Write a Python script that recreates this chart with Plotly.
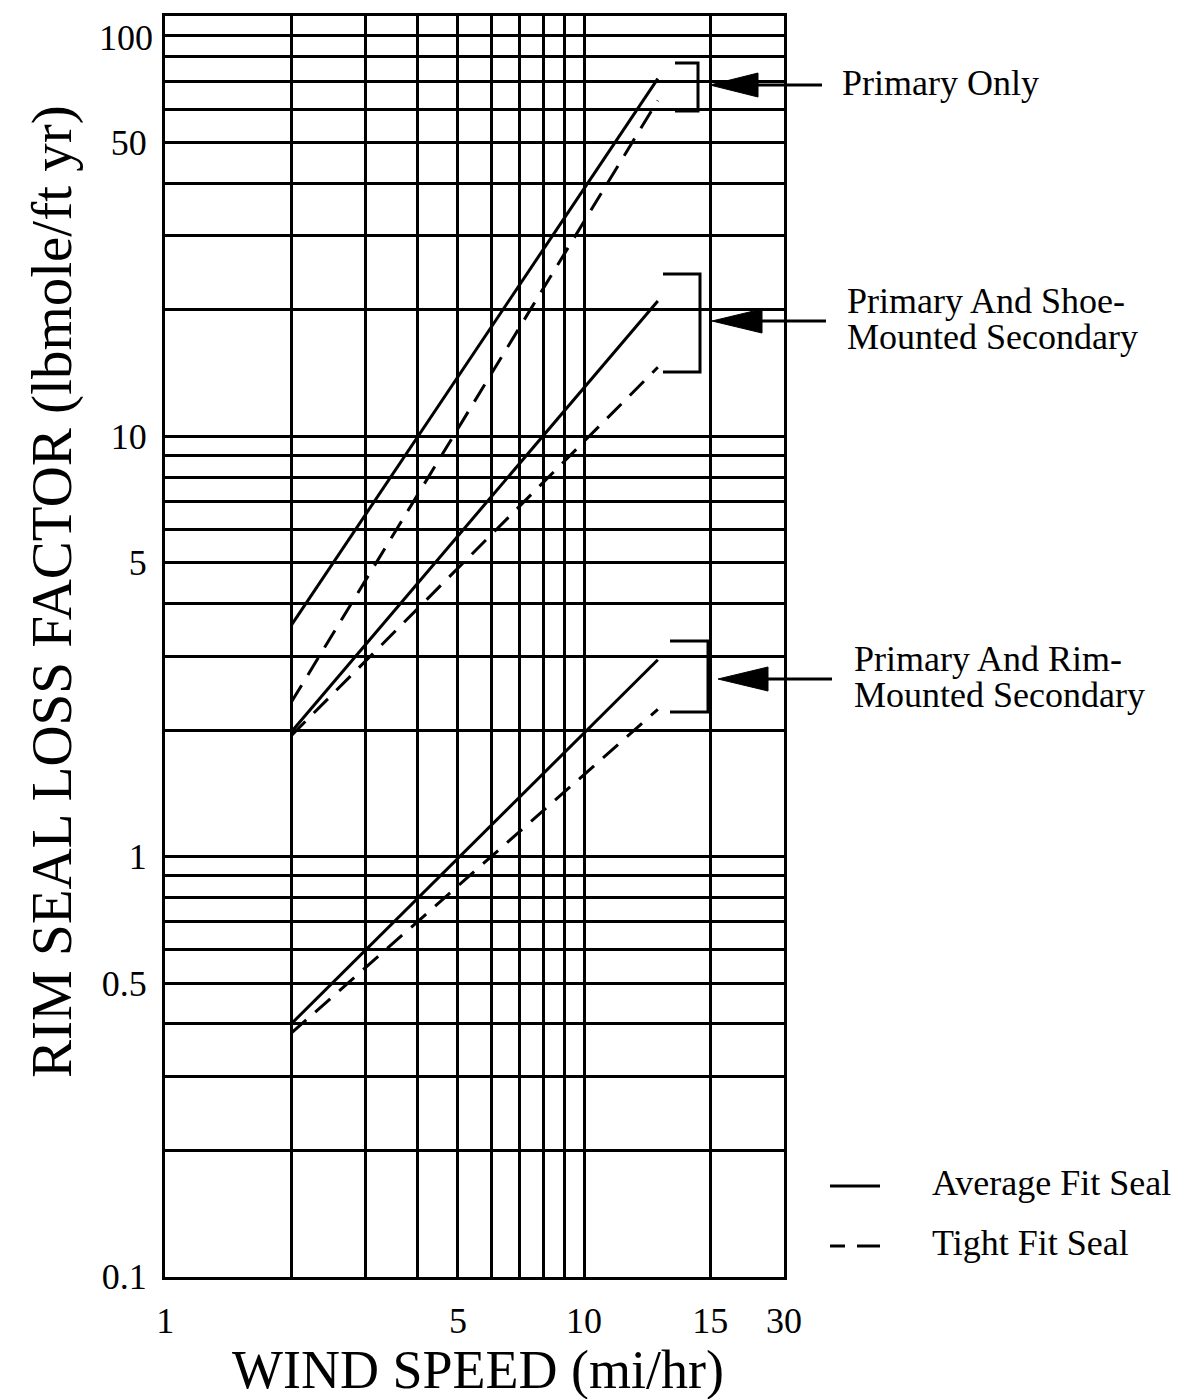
import plotly.graph_objects as go

# Wind speed at the two ends of every rim-seal line (mi/hr)
wind_speed = [2, 15]

# Rim seal loss factor (lbmole/ft yr) at those wind speeds
primary_only_avg = [3.55, 71]
primary_only_tight = [2.33, 63]
shoe_secondary_avg = [1.98, 21]
shoe_secondary_tight = [1.94, 14.6]
rim_secondary_avg = [0.40, 2.94]
rim_secondary_tight = [0.38, 2.24]

# Grid lines and their labels
x_grid = [1, 2, 3, 4, 5, 6, 7, 8, 9, 10, 20, 30]
x_labels = ["1", "", "", "", "5", "", "", "", "", "10", "15", "30"]
y_grid = [0.1, 0.2, 0.3, 0.4, 0.5, 0.6, 0.7, 0.8, 0.9,
          1, 2, 3, 4, 5, 6, 7, 8, 9,
          10, 20, 30, 40, 50, 60, 70, 80, 90, 100]
y_labels = ["0.1", "", "", "", "0.5", "", "", "", "",
            "1", "", "", "", "5", "", "", "", "",
            "10", "", "", "", "50", "", "", "", "", "100"]

FONT = "Liberation Serif"
W, H = 1185, 1399
L, R, T, B = 165, 401, 16, 122
PW, PH = W - L - R, H - T - B


def px(x):
    return (x - L) / PW


def py(y):
    return 1 - (y - T) / PH


fig = go.Figure()

series = [
    (primary_only_avg, "solid"),
    (primary_only_tight, "20px,12px"),
    (shoe_secondary_avg, "solid"),
    (shoe_secondary_tight, "20px,12px"),
    (rim_secondary_avg, "solid"),
    (rim_secondary_tight, "20px,12px"),
]
for values, dash in series:
    fig.add_trace(go.Scatter(
        x=wind_speed, y=values, mode="lines",
        line=dict(color="black", width=3, dash=dash),
        showlegend=False, hoverinfo="skip",
    ))

shapes = []

# Brackets grouping each average/tight pair
brackets = [
    (675, 698, 63, 111),
    (663, 700, 274, 372),
    (670, 708, 641, 712),
]
for x0, x1, y0, y1 in brackets:
    shapes.append(dict(
        type="path", xref="paper", yref="paper",
        path=f"M{px(x0)},{py(y0)} L{px(x1)},{py(y0)} L{px(x1)},{py(y1)} L{px(x0)},{py(y1)}",
        line=dict(color="black", width=3),
    ))

# Pointer arrows to the group names
arrows = [
    (710, 758, 822, 85),
    (712, 762, 826, 321),
    (718, 768, 832, 679),
]
for tip, base, end, yc in arrows:
    shapes.append(dict(
        type="line", xref="paper", yref="paper",
        x0=px(base - 2), x1=px(end), y0=py(yc), y1=py(yc),
        line=dict(color="black", width=3),
    ))
    shapes.append(dict(
        type="path", xref="paper", yref="paper",
        path=f"M{px(tip)},{py(yc)} L{px(base)},{py(yc - 12)} L{px(base)},{py(yc + 12)} Z",
        fillcolor="black", line=dict(color="black", width=1),
    ))

# Line-style key
shapes.append(dict(type="line", xref="paper", yref="paper",
                   x0=px(830), x1=px(880), y0=py(1186), y1=py(1186),
                   line=dict(color="black", width=3)))
for a, b in [(830, 845), (857, 880)]:
    shapes.append(dict(type="line", xref="paper", yref="paper",
                       x0=px(a), x1=px(b), y0=py(1246), y1=py(1246),
                       line=dict(color="black", width=3)))

annotations = []
text_items = [
    ("Primary Only", 840, 83),
    ("Primary And Shoe-", 845, 301),
    ("Mounted Secondary", 845, 337),
    ("Primary And Rim-", 852, 659),
    ("Mounted Secondary", 852, 695),
    ("Average Fit Seal", 930, 1183),
    ("Tight Fit Seal", 930, 1243),
]
for text, x, y in text_items:
    annotations.append(dict(
        text=text, xref="paper", yref="paper", x=px(x), y=py(y),
        xanchor="left", yanchor="middle", showarrow=False,
        font=dict(family=FONT, size=36, color="black"),
    ))

# The top tick label sits just under its grid line so it stays on the page
axis_y_text = list(y_labels)
top_label = axis_y_text[-1]
axis_y_text[-1] = ""
annotations.append(dict(
    text=top_label, xref="paper", yref="y", x=0, y=2,
    xanchor="right", yanchor="top", xshift=-10, yshift=0,
    showarrow=False, font=dict(family=FONT, size=36, color="black"),
))

annotations.append(dict(
    text="RIM SEAL LOSS FACTOR (lbmole/ft yr)", xref="paper", yref="paper",
    x=px(52), y=py(592), textangle=-90, showarrow=False,
    xanchor="center", yanchor="middle",
    font=dict(family=FONT, size=57, color="black"),
))
annotations.append(dict(
    text="WIND SPEED (mi/hr)", xref="paper", yref="paper",
    x=px(478), y=py(1370), showarrow=False,
    xanchor="center", yanchor="middle",
    font=dict(family=FONT, size=54, color="black"),
))

axis_common = dict(
    type="log", showgrid=True, gridcolor="black", gridwidth=3,
    showline=True, linecolor="black", linewidth=3, mirror=True,
    ticks="", tickfont=dict(family=FONT, size=36, color="black"),
    ticklabeloverflow="allow", automargin=False,
    zeroline=False, fixedrange=True,
)

fig.update_layout(
    width=W, height=H,
    margin=dict(l=L, r=R, t=T, b=B, autoexpand=False),
    paper_bgcolor="white", plot_bgcolor="white",
    xaxis=dict(range=[-0.0003, 1.4773], tickmode="array", tickvals=x_grid,
               ticktext=x_labels, ticklabelstandoff=10, **axis_common),
    yaxis=dict(range=[-1.0003, 2.0003], tickmode="array", tickvals=y_grid,
               ticktext=axis_y_text, ticklabelstandoff=8, **axis_common),
    shapes=shapes,
    annotations=annotations,
    showlegend=False,
)

fig.write_html("out.html")
